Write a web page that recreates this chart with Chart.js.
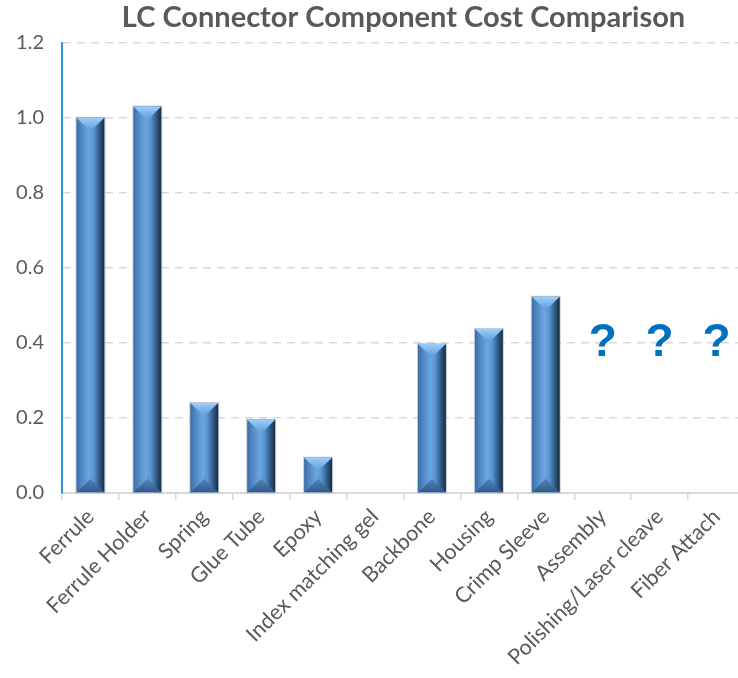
<!DOCTYPE html>
<html>
<head>
<meta charset="utf-8">
<script src="https://cdn.jsdelivr.net/npm/chart.js@4.4.1/dist/chart.umd.min.js"></script>
<style>
  html, body { margin: 0; padding: 0; background: #fff; overflow: hidden; }
  #wrap { width: 748px; height: 678px; }
</style>
</head>
<body>
<div id="wrap"><canvas id="costChart"></canvas></div>
<script>
const categories = [
  "Ferrule", "Ferrule Holder", "Spring", "Glue Tube", "Epoxy",
  "Index matching gel", "Backbone", "Housing", "Crimp Sleeve",
  "Assembly", "Polishing/Laser cleave", "Fiber Attach"
];
const relativeCost = [1.0, 1.03, 0.24, 0.195, 0.094, null, 0.397, 0.437, 0.523, null, null, null];
// unknown costs shown as a "?" in the chart
const unknownMarks = ["", "", "", "", "", "", "", "", "", "?", "?", "?"];
const markY = 0.365;
const yTicks = [0, 0.2, 0.4, 0.6, 0.8, 1.0, 1.2];

const FONT = "Lato, 'Open Sans', sans-serif";
const GREY = "#595959";

// bevelled bar look, painted over the bar elements
const bevelPlugin = {
  id: "bevel",
  afterDatasetsDraw(chart) {
    const ctx = chart.ctx;
    chart.getDatasetMeta(0).data.forEach((bar, i) => {
      if (relativeCost[i] == null) return;
      const { x, y, base, width } = bar.getProps(["x", "y", "base", "width"], true);
      const l = x - width / 2, r = x + width / 2;
      const d = Math.min(width * 0.48, (base - y) / 2);
      ctx.save();
      const g = ctx.createLinearGradient(l, 0, r, 0);
      g.addColorStop(0, "#3b6ba3");
      g.addColorStop(0.15, "#4e84c0");
      g.addColorStop(0.45, "#6ba7e1");
      g.addColorStop(0.62, "#5a94d0");
      g.addColorStop(0.82, "#305a88");
      g.addColorStop(1, "#182a3e");
      ctx.fillStyle = g;
      ctx.fillRect(l, y, width, base - y);
      // top bevel
      const tg = ctx.createLinearGradient(0, y, 0, y + d);
      tg.addColorStop(0, "#9ccffa");
      tg.addColorStop(1, "#5b98d6");
      ctx.fillStyle = tg;
      ctx.beginPath();
      ctx.moveTo(l, y); ctx.lineTo(r, y); ctx.lineTo(x, y + d); ctx.closePath();
      ctx.fill();
      // bottom bevel
      const bg = ctx.createLinearGradient(0, base - d, 0, base);
      bg.addColorStop(0, "#5284ba");
      bg.addColorStop(1, "#33598a");
      ctx.fillStyle = bg;
      ctx.beginPath();
      ctx.moveTo(l, base); ctx.lineTo(r, base); ctx.lineTo(x, base - d); ctx.closePath();
      ctx.fill();
      ctx.strokeStyle = "rgba(150,170,190,0.6)";
      ctx.lineWidth = 1;
      ctx.strokeRect(l - 0.5, y - 0.5, width + 1, base - y + 1);
      ctx.restore();
    });
  }
};

const markPlugin = {
  id: "marks",
  afterDraw(chart) {
    const ctx = chart.ctx;
    const xs = chart.scales.x, ys = chart.scales.y;
    ctx.save();
    ctx.font = "bold 46px Arial, 'Liberation Sans', sans-serif";
    ctx.fillStyle = "#0070c0";
    ctx.textAlign = "center";
    ctx.textBaseline = "alphabetic";
    unknownMarks.forEach((m, i) => {
      if (!m) return;
      ctx.fillText(m, xs.getPixelForValue(i), ys.getPixelForValue(markY));
    });
    ctx.restore();
  }
};

new Chart(document.getElementById("costChart"), {
  type: "bar",
  data: {
    labels: categories,
    datasets: [{
      label: "Cost",
      data: relativeCost,
      backgroundColor: "#4f81bd",
      barPercentage: 0.49,
      categoryPercentage: 1
    }]
  },
  options: {
    responsive: true,
    maintainAspectRatio: false,
    animation: false,
    layout: { padding: { top: 0, right: 3, left: 0, bottom: 0 } },
    plugins: {
      legend: { display: false },
      tooltip: { enabled: false },
      title: {
        display: true,
        fullSize: false,
        text: "LC Connector Component Cost Comparison",
        color: GREY,
        font: { family: FONT, size: 29, weight: "bold" },
        padding: { top: 0, bottom: 8 }
      }
    },
    scales: {
      x: {
        grid: { drawOnChartArea: false, color: "#d9d9d9", tickLength: 7, lineWidth: 1.5 },
        border: { color: "#d9d9d9", width: 2 },
        ticks: {
          color: GREY,
          font: { family: FONT, size: 21.5 },
          minRotation: 45, maxRotation: 45,
          autoSkip: false, padding: 4
        },
        afterFit(s) { s.height = 185; }
      },
      y: {
        min: 0, max: 1.2,
        afterBuildTicks(s) { s.ticks = yTicks.map(v => ({ value: v })); },
        grid: { color: "#d9d9d9", lineWidth: 1.5, drawTicks: false },
        border: { color: "#2a9bd0", width: 2, dash: [8, 6] },
        ticks: {
          color: GREY,
          font: { family: FONT, size: 20 },
          padding: 18,
          callback: v => v.toFixed(1)
        },
        afterFit(s) { s.width = 62; }
      }
    }
  },
  plugins: [bevelPlugin, markPlugin]
});
</script>
</body>
</html>
